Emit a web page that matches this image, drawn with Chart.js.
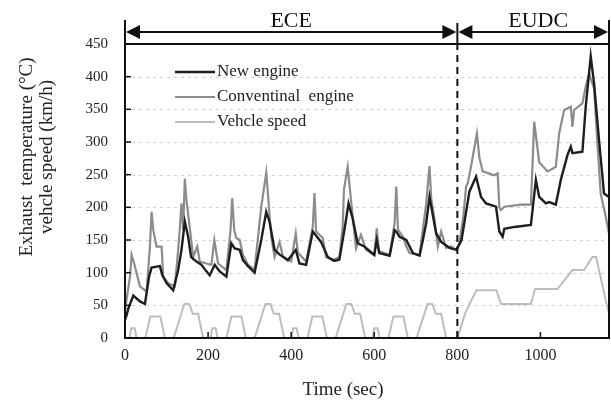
<!DOCTYPE html>
<html>
<head>
<meta charset="utf-8">
<style>
  html, body { margin: 0; padding: 0; background: #fff; }
  #wrap { width: 611px; height: 403px; }
</style>
</head>
<body>
<div id="wrap"><canvas id="exhaustChart"></canvas></div>
<script src="https://cdn.jsdelivr.net/npm/chart.js"></script>
<script>
  // [time (s), value] pairs
  const newEngine = [
    [0, 28], [3, 33], [8, 45], [20, 65], [36, 56], [48, 52], [58, 94], [64, 108], [84, 110], [90, 96],
    [100, 84], [116, 73], [128, 104], [136, 135], [144, 178], [152, 155], [159, 124], [172, 117], [184, 112],
    [196, 102], [204, 96], [216, 112], [228, 102], [244, 94], [256, 145], [264, 137], [276, 135], [284, 119],
    [296, 110], [312, 100], [328, 150], [340, 193], [348, 178], [360, 135], [372, 128], [392, 119], [411, 135],
    [420, 114], [436, 112], [452, 163], [472, 147], [488, 124], [504, 118], [516, 120], [528, 165], [538, 206],
    [548, 183], [560, 145], [576, 140], [600, 127], [606, 150], [612, 130], [637, 126], [649, 165], [653, 163],
    [661, 155], [677, 150], [693, 130], [709, 126], [717, 150], [725, 176], [733, 216], [741, 188], [749, 160],
    [761, 147], [781, 138], [798, 135], [810, 150], [829, 224], [845, 247], [857, 216], [869, 206], [893, 201],
    [901, 163], [909, 155], [913, 167], [937, 170], [977, 173], [989, 242], [997, 216], [1013, 206], [1021, 208],
    [1037, 204], [1049, 242], [1065, 280], [1073, 293], [1077, 283], [1101, 285], [1109, 354], [1121, 431],
    [1129, 390], [1141, 303], [1153, 221], [1165, 216]
  ];
  const convEngine = [
    [0, 40], [4, 60], [12, 94], [16, 127], [22, 114], [28, 99], [36, 79], [52, 71], [60, 140], [64, 193],
    [68, 165], [76, 140], [88, 140], [92, 94], [104, 84], [120, 79], [128, 135], [132, 168], [136, 206],
    [140, 165], [144, 244], [148, 211], [156, 168], [164, 124], [174, 140], [180, 117], [196, 114], [208, 112],
    [215, 150], [224, 114], [244, 104], [254, 165], [258, 214], [263, 165], [268, 153], [276, 150], [284, 127],
    [296, 112], [312, 105], [328, 201], [340, 253], [352, 155], [360, 124], [372, 147], [380, 125], [400, 117],
    [411, 160], [416, 131], [436, 117], [452, 170], [456, 222], [460, 163], [476, 153], [484, 124], [500, 119],
    [516, 124], [524, 170], [527, 227], [536, 262], [544, 211], [556, 137], [568, 158], [580, 135], [600, 127],
    [606, 168], [611, 133], [637, 127], [649, 176], [653, 232], [657, 166], [669, 155], [677, 140], [685, 130],
    [709, 127], [719, 176], [725, 206], [733, 263], [737, 214], [745, 181], [753, 140], [761, 163], [773, 138],
    [785, 140], [797, 135], [805, 145], [815, 190], [821, 232], [825, 237], [833, 263], [847, 313], [853, 276],
    [861, 255], [889, 249], [897, 252], [901, 200], [905, 196], [913, 201], [953, 204], [977, 204], [985, 331],
    [989, 310], [997, 269], [1017, 255], [1029, 259], [1037, 262], [1045, 313], [1057, 349], [1073, 354],
    [1077, 323], [1081, 349], [1101, 359], [1109, 385], [1117, 405], [1129, 382], [1137, 300], [1145, 221],
    [1157, 186], [1165, 160]
  ];
  const vehicleSpeed = [
    [0, 0], [11, 0], [15, 15], [23, 15], [28, 0], [49, 0], [61, 33], [85, 33], [96, 0], [117, 0], [143, 52],
    [155, 52], [163, 37], [176, 37], [188, 0],
    [206, 0], [210, 15], [218, 15], [223, 0], [244, 0], [256, 33], [280, 33], [291, 0], [312, 0], [338, 52],
    [350, 52], [358, 37], [371, 37], [383, 0],
    [401, 0], [405, 15], [413, 15], [418, 0], [439, 0], [451, 33], [475, 33], [486, 0], [507, 0], [533, 52],
    [545, 52], [553, 37], [566, 37], [578, 0],
    [596, 0], [600, 15], [608, 15], [613, 0], [634, 0], [646, 33], [670, 33], [681, 0], [702, 0], [728, 52],
    [740, 52], [748, 37], [761, 37], [773, 0],
    [800, 0], [820, 40], [846, 73], [894, 73], [905, 52], [977, 52], [987, 75], [1041, 75], [1077, 104],
    [1105, 104], [1125, 124], [1134, 124], [1158, 55], [1180, 0]
  ];

  const timeMax = 1165;
  const timeTicks = [0, 200, 400, 600, 800, 1000];
  const tempTicks = [0, 50, 100, 150, 200, 250, 300, 350, 400, 450];
  const phaseNames = ['ECE', 'EUDC'];
  const phaseEdges = [0, 800, timeMax];

  const serif = "'Liberation Serif', 'Times New Roman', serif";
  const toXY = arr => arr.map(([x, y]) => ({ x, y }));

  // grid, frame, inward ticks, phase bracket, legend and titles
  const decorations = {
    id: 'decorations',
    beforeDatasetsDraw(chart) {
      const { ctx, chartArea: a, scales: { y } } = chart;
      ctx.save();
      ctx.strokeStyle = '#cfcfcf';
      ctx.lineWidth = 1;
      ctx.setLineDash([3, 4]);
      y.ticks.forEach(t => {
        if (t.value <= 0 || t.value >= 450) return;
        const py = Math.round(y.getPixelForValue(t.value)) + 0.5;
        ctx.beginPath();
        ctx.moveTo(a.left, py);
        ctx.lineTo(a.right, py);
        ctx.stroke();
      });
      ctx.restore();
    },
    afterDatasetsDraw(chart) {
      const { ctx, chartArea: a, scales: { x, y } } = chart;
      ctx.save();
      ctx.strokeStyle = '#111';
      ctx.fillStyle = '#111';
      ctx.lineWidth = 2;
      ctx.strokeRect(a.left, a.top, a.right - a.left, a.bottom - a.top);

      ctx.lineWidth = 1.5;
      y.ticks.forEach(t => {
        const py = y.getPixelForValue(t.value);
        ctx.beginPath();
        ctx.moveTo(a.left, py);
        ctx.lineTo(a.left + 6, py);
        ctx.stroke();
      });
      x.ticks.forEach(t => {
        const px = x.getPixelForValue(t.value);
        ctx.beginPath();
        ctx.moveTo(px, a.bottom);
        ctx.lineTo(px, a.bottom - 6);
        ctx.stroke();
      });

      // phase bracket above the plot
      const xs = phaseEdges.map(v => x.getPixelForValue(v));
      const yb = a.top - 12;
      ctx.lineWidth = 2;
      xs.forEach((px, i) => {
        ctx.beginPath();
        ctx.moveTo(px, i === 1 ? a.top - 21 : a.top - 24);
        ctx.lineTo(px, a.top);
        ctx.stroke();
      });
      const head = (tip, dir) => {
        ctx.beginPath();
        ctx.moveTo(tip, yb);
        ctx.lineTo(tip + dir * 14, yb - 7);
        ctx.lineTo(tip + dir * 14, yb + 7);
        ctx.closePath();
        ctx.fill();
      };
      ctx.font = '22px ' + serif;
      ctx.textAlign = 'center';
      ctx.textBaseline = 'alphabetic';
      phaseNames.forEach((name, i) => {
        const l = xs[i] + 1, r = xs[i + 1] - 1;
        ctx.beginPath();
        ctx.moveTo(l + 10, yb);
        ctx.lineTo(r - 10, yb);
        ctx.stroke();
        head(l, 1);
        head(r, -1);
        ctx.fillText(name, (l + r) / 2 + (i === 1 ? 5 : 0), a.top - 17);
      });

      // legend inside the plot
      ctx.font = '17px ' + serif;
      ctx.textAlign = 'left';
      ctx.textBaseline = 'middle';
      let row = 0;
      chart.data.datasets.forEach(ds => {
        if (!ds.legend) return;
        const py = a.top + 28 + row * 25;
        ctx.strokeStyle = ds.borderColor;
        ctx.lineWidth = ds.borderWidth;
        ctx.beginPath();
        ctx.moveTo(a.left + 50, py);
        ctx.lineTo(a.left + 90, py);
        ctx.stroke();
        ctx.fillStyle = '#222';
        ctx.fillText(ds.label, a.left + 92, py);
        row++;
      });

      // axis titles
      ctx.fillStyle = '#222';
      ctx.textAlign = 'center';
      ctx.font = '19px ' + serif;
      ctx.fillText('Time (sec)', 343, 390);
      ctx.translate(0, a.top + 113);
      ctx.rotate(-Math.PI / 2);
      ctx.fillText('Exhaust  temperature (°C)', 0, 27);
      ctx.fillText('vehcle speed (km/h)', 0, 47);
      ctx.restore();
    }
  };

  const ctx = document.getElementById('exhaustChart').getContext('2d');
  const exhaustChart = new Chart(ctx, {
    type: 'line',
    data: {
      datasets: [
        {
          label: 'New engine',
          data: toXY(newEngine),
          borderColor: '#1e1e1e',
          borderWidth: 2.4,
          legend: true,
          order: 1
        },
        {
          label: 'Conventinal  engine',
          data: toXY(convEngine),
          borderColor: '#8c8c8c',
          borderWidth: 2.2,
          legend: true,
          order: 2
        },
        {
          label: 'Vehcle speed',
          data: toXY(vehicleSpeed),
          borderColor: '#bdbdbd',
          borderWidth: 2,
          legend: true,
          order: 3
        },
        {
          label: 'phase boundary',
          data: [{ x: phaseEdges[1], y: 0 }, { x: phaseEdges[1], y: 450 }],
          borderColor: '#111',
          borderWidth: 2,
          borderDash: [7, 5],
          order: 0
        }
      ]
    },
    options: {
      responsive: true,
      maintainAspectRatio: false,
      animation: false,
      layout: { padding: { top: 44, right: 2, left: 0, bottom: 0 } },
      elements: { point: { radius: 0 }, line: { tension: 0, fill: false } },
      plugins: {
        legend: { display: false },
        tooltip: { enabled: false }
      },
      scales: {
        x: {
          type: 'linear',
          min: 0,
          max: timeMax,
          grid: { display: false, drawTicks: false },
          border: { display: false },
          afterBuildTicks: s => { s.ticks = timeTicks.map(v => ({ value: v })); },
          ticks: {
            padding: 8,
            color: '#222',
            font: { family: serif, size: 16 },
            callback: v => String(v)
          },
          afterFit: s => { s.height = 65; }
        },
        y: {
          min: 0,
          max: 450,
          grid: { display: false, drawTicks: false },
          border: { display: false },
          afterBuildTicks: s => { s.ticks = tempTicks.map(v => ({ value: v })); },
          ticks: {
            padding: 17,
            color: '#222',
            font: { family: serif, size: 15 },
            callback: v => String(v)
          },
          afterFit: s => { s.width = 125; }
        }
      }
    },
    plugins: [decorations]
  });
</script>
</body>
</html>
